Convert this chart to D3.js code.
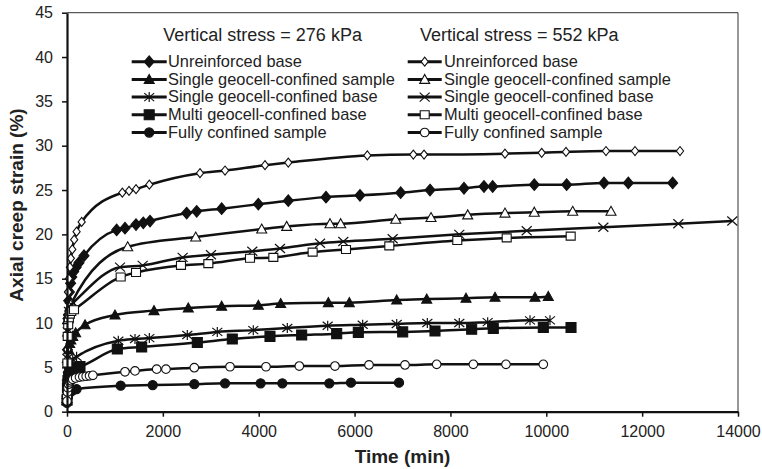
<!DOCTYPE html>
<html>
<head>
<meta charset="utf-8">
<script src="https://cdn.jsdelivr.net/npm/d3@7"></script>
<style>
  body { margin: 0; background: #fff; }
  svg { display: block; font-family: "Liberation Sans", Arial, sans-serif; }
</style>
</head>
<body>
<svg id="chart" width="762" height="469"></svg>
<script>
// Axis ticks
const xTicks = [0, 2000, 4000, 6000, 8000, 10000, 12000, 14000];
const yTicks = [0, 5, 10, 15, 20, 25, 30, 35, 40, 45];

// Legend column headings
const stressTitles = ["Vertical stress = 276 kPa", "Vertical stress = 552 kPa"];

// Series labels
const seriesNames = [
  "Unreinforced base",
  "Single geocell-confined sample",
  "Single geocell-confined base",
  "Multi geocell-confined base",
  "Fully confined sample"
];

// Time (min) and axial creep strain (%) per test, 276 kPa
const unreinforced276T = [0, 10, 20, 35, 50, 75, 100, 140, 190, 250, 355, 1036, 1210, 1440, 1592, 1732, 2497, 2706, 3227, 3992, 4617, 5404, 6113, 6962, 7574, 8283, 8700, 8881, 9750, 10425, 11204, 11711, 12637];
const unreinforced276S = [1.5, 7, 10.5, 12.5, 13.5, 14.5, 15.2, 15.8, 16.3, 16.8, 17.6, 20.5, 20.7, 21.1, 21.3, 21.5, 22.4, 22.6, 22.9, 23.4, 23.8, 24.2, 24.4, 24.7, 25.0, 25.2, 25.4, 25.4, 25.6, 25.6, 25.8, 25.8, 25.8];

const singleSample276T = [0, 10, 20, 35, 55, 80, 120, 180, 376, 1001, 1815, 2531, 3227, 3992, 4458, 5452, 5890, 6879, 7505, 8325, 8930, 9764, 10042];
const singleSample276S = [1.3, 4, 5.8, 7, 7.7, 8.1, 8.5, 8.9, 9.8, 10.9, 11.4, 11.7, 11.9, 12.0, 12.2, 12.3, 12.3, 12.6, 12.7, 12.8, 12.9, 12.9, 13.0];

const singleBase276T = [0, 10, 20, 35, 55, 80, 120, 200, 1071, 1419, 1718, 2510, 3136, 3887, 4597, 5439, 6169, 6879, 7518, 8185, 8777, 9660, 10077];
const singleBase276S = [1.3, 3, 4, 4.7, 5.1, 5.5, 5.9, 6.2, 8.0, 8.2, 8.3, 8.65, 9.0, 9.2, 9.45, 9.7, 9.8, 9.9, 10.0, 10.0, 10.1, 10.3, 10.3];

const multiBase276T = [0, 10, 20, 35, 55, 80, 120, 200, 271, 1050, 1558, 2719, 3449, 4235, 4896, 5627, 6078, 7004, 7678, 8443, 8894, 9938, 10516];
const multiBase276S = [1.3, 2.7, 3.5, 4.0, 4.3, 4.5, 4.7, 5.0, 5.1, 7.07, 7.3, 7.8, 8.2, 8.5, 8.65, 8.8, 8.95, 9.0, 9.1, 9.3, 9.4, 9.5, 9.5];

const fully276T = [0, 10, 20, 35, 55, 80, 120, 200, 1120, 1788, 2656, 3297, 4040, 4493, 5473, 5925, 6927];
const fully276S = [1.0, 1.5, 1.8, 2.0, 2.2, 2.3, 2.4, 2.55, 2.93, 3.0, 3.1, 3.2, 3.2, 3.2, 3.2, 3.27, 3.27];

// Time (min) and axial creep strain (%) per test, 552 kPa
const unreinforced552T = [0, 8, 15, 25, 40, 60, 80, 110, 150, 200, 306, 1154, 1294, 1440, 1718, 2775, 3297, 4131, 4617, 6266, 7226, 7449, 9138, 9904, 10411, 11246, 11851, 12790];
const unreinforced552S = [1.5, 7, 11, 13.5, 15, 16.3, 17.3, 18.3, 19.4, 20.3, 21.4, 24.7, 24.9, 25.1, 25.6, 26.9, 27.2, 27.8, 28.1, 28.9, 29.0, 29.0, 29.1, 29.2, 29.3, 29.4, 29.4, 29.4];

const singleSample552T = [0, 8, 15, 25, 40, 60, 90, 1266, 2685, 4062, 4583, 5487, 5710, 6858, 7595, 8360, 9138, 9750, 10551, 11350];
const singleSample552S = [1.5, 6, 9, 10.5, 11.3, 11.8, 12.2, 18.6, 19.7, 20.6, 20.9, 21.2, 21.2, 21.7, 21.9, 22.2, 22.4, 22.5, 22.6, 22.6];

const singleBase552T = [0, 8, 15, 25, 40, 60, 90, 130, 1106, 1579, 2413, 3004, 3866, 4444, 5279, 5765, 6795, 8185, 9591, 11190, 12755, 13881];
const singleBase552S = [1.5, 6, 9, 10.5, 11.3, 11.8, 12.1, 12.3, 16.3, 16.5, 17.4, 17.7, 18.1, 18.4, 19.0, 19.2, 19.5, 20.0, 20.4, 20.8, 21.2, 21.5];

const multiBase552T = [0, 8, 15, 25, 40, 60, 90, 146, 1120, 1440, 2378, 2949, 3818, 4305, 5125, 5821, 6725, 8143, 9174, 10509];
const multiBase552S = [1.5, 5.5, 8.5, 9.8, 10.6, 11, 11.3, 11.5, 15.2, 15.7, 16.5, 16.7, 17.3, 17.4, 18.0, 18.3, 18.7, 19.3, 19.6, 19.8];

const fully552T = [0, 10, 20, 35, 55, 80, 120, 180, 260, 330, 400, 470, 540, 1210, 1419, 1871, 2065, 2656, 3401, 4152, 4847, 5591, 6301, 7052, 7713, 8478, 9159, 9938];
const fully552S = [1.2, 2.2, 2.7, 3.1, 3.35, 3.5, 3.65, 3.8, 3.9, 3.95, 4.0, 4.05, 4.1, 4.5, 4.6, 4.8, 4.8, 4.96, 5.07, 5.07, 5.15, 5.15, 5.27, 5.27, 5.34, 5.34, 5.34, 5.34];

// Series table: column 0 = 276 kPa, column 1 = 552 kPa
const series = [
  { col: 0, row: 0, t: unreinforced276T, s: unreinforced276S, marker: "diamond", fill: true },
  { col: 0, row: 1, t: singleSample276T, s: singleSample276S, marker: "triangle", fill: true },
  { col: 0, row: 2, t: singleBase276T, s: singleBase276S, marker: "asterisk", fill: true },
  { col: 0, row: 3, t: multiBase276T, s: multiBase276S, marker: "square", fill: true },
  { col: 0, row: 4, t: fully276T, s: fully276S, marker: "circle", fill: true },
  { col: 1, row: 0, t: unreinforced552T, s: unreinforced552S, marker: "diamond", fill: false },
  { col: 1, row: 1, t: singleSample552T, s: singleSample552S, marker: "triangle", fill: false },
  { col: 1, row: 2, t: singleBase552T, s: singleBase552S, marker: "cross", fill: false },
  { col: 1, row: 3, t: multiBase552T, s: multiBase552S, marker: "square", fill: false },
  { col: 1, row: 4, t: fully552T, s: fully552S, marker: "circle", fill: false }
];

const svg = d3.select("#chart");
const W = 762, H = 469;
const plot = { left: 67, right: 738, top: 12.7, bottom: 411.7 };

const x = d3.scaleLinear().domain([0, 14000]).range([plot.left, plot.right]);
const y = d3.scaleLinear().domain([0, 45]).range([plot.bottom, plot.top]);

svg.append("rect").attr("width", W).attr("height", H).attr("fill", "#fff");

// Frame: thin top/right border
svg.append("path")
  .attr("d", `M${plot.left},${plot.top}H${plot.right}V${plot.bottom}`)
  .attr("fill", "none").attr("stroke", "#333").attr("stroke-width", 1);

// Marker shapes
function markerPath(type, fill) {
  switch (type) {
    case "diamond": return fill ? "M0,-5.8L5,0L0,5.8L-5,0Z" : "M0,-4.5L3.6,0L0,4.5L-3.6,0Z";
    case "triangle": return "M0,-5L5,4L-5,4Z";
    case "square": return fill ? "M-5,-5H5V5H-5Z" : "M-4.5,-4H4.5V4H-4.5Z";
    case "cross": return "M-5,-4.5L5,4.5M-5,4.5L5,-4.5";
    case "asterisk": return "M-5,-4L5,4M-5,4L5,-4M0,-5V5";
    default: return null;
  }
}

function drawMarker(g, type, fill) {
  if (type === "circle") {
    g.append("circle").attr("r", fill ? 4.6 : 4.3)
      .attr("fill", fill ? "#111" : "#fff").attr("stroke", "#111").attr("stroke-width", 1.1);
  } else if (type === "cross" || type === "asterisk") {
    g.append("path").attr("d", markerPath(type, fill))
      .attr("fill", "none").attr("stroke", "#111").attr("stroke-width", 1.2);
  } else {
    g.append("path").attr("d", markerPath(type, fill))
      .attr("fill", fill ? "#111" : "#fff").attr("stroke", "#111").attr("stroke-width", 1.1);
  }
}

const line = d3.line()
  .x(d => x(d[0]))
  .y(d => y(d[1]))
  .curve(d3.curveMonotoneX);

const dataG = svg.append("g");
series.forEach(sr => {
  const pts = sr.t.map((t, i) => [t, sr.s[i]]);
  dataG.append("path")
    .attr("d", line(pts))
    .attr("fill", "none")
    .attr("stroke", "#111")
    .attr("stroke-width", 2.5)
    .attr("stroke-linejoin", "round");
  pts.forEach(p => {
    const g = dataG.append("g").attr("transform", `translate(${x(p[0])},${y(p[1])})`);
    drawMarker(g, sr.marker, sr.fill);
  });
});

// Axes
const xAxis = d3.axisBottom(x).tickValues(xTicks).tickSize(5).tickSizeOuter(0).tickPadding(9).tickFormat(d3.format("d"));
const yAxis = d3.axisLeft(y).tickValues(yTicks).tickSize(5).tickSizeOuter(0).tickPadding(9).tickFormat(d3.format("d"));

const gx = svg.append("g").attr("transform", `translate(0,${plot.bottom})`).call(xAxis);
const gy = svg.append("g").attr("transform", `translate(${plot.left},0)`).call(yAxis);

[gx, gy].forEach(g => {
  g.select(".domain").attr("stroke", "#111").attr("stroke-width", 2.2);
  g.selectAll(".tick line").attr("stroke", "#111").attr("stroke-width", 1.5);
  g.selectAll(".tick text")
    .attr("fill", "#222")
    .style("font-family", "'Liberation Sans', Arial, sans-serif")
    .style("font-size", "16px");
});

// Axis titles
svg.append("text")
  .attr("x", (plot.left + plot.right) / 2).attr("y", 463)
  .attr("text-anchor", "middle")
  .style("font-size", "19px").style("font-weight", "bold").attr("fill", "#222")
  .text("Time (min)");

svg.append("text")
  .attr("transform", "translate(23,205) rotate(-90)")
  .attr("text-anchor", "middle")
  .style("font-size", "19px").style("font-weight", "bold").attr("fill", "#222")
  .text("Axial creep strain (%)");

// Legend
const legendCols = [
  { titleX: 163.3, lineX0: 131.7, lineX1: 166.7, textX: 168 },
  { titleX: 420, lineX0: 407.7, lineX1: 441.7, textX: 444 }
];
const rowY = r => 61.7 + r * 17.7;

legendCols.forEach((c, ci) => {
  svg.append("text")
    .attr("x", c.titleX).attr("y", 40.5)
    .style("font-size", "18px").attr("fill", "#222")
    .text(stressTitles[ci]);
});

series.forEach(sr => {
  const c = legendCols[sr.col];
  const yy = rowY(sr.row);
  svg.append("line")
    .attr("x1", c.lineX0).attr("x2", c.lineX1).attr("y1", yy).attr("y2", yy)
    .attr("stroke", "#111").attr("stroke-width", 3);
  const g = svg.append("g").attr("transform", `translate(${(c.lineX0 + c.lineX1) / 2},${yy})`);
  drawMarker(g, sr.marker, sr.fill);
  svg.append("text")
    .attr("x", c.textX).attr("y", yy + 5.2)
    .style("font-size", "16.4px").attr("fill", "#222")
    .text(seriesNames[sr.row]);
});
</script>
</body>
</html>
